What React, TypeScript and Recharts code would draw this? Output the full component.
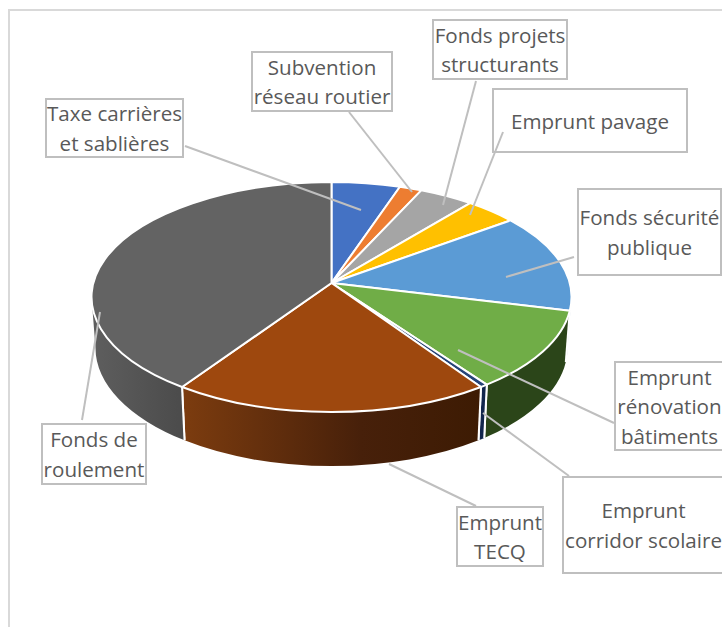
import { Pie, PieChart } from "recharts";

// share of each funding source, clockwise from 12 o'clock (%)
const CATEGORIES = [
  "Taxe carrières et sablières",
  "Subvention réseau routier",
  "Fonds projets structurants",
  "Emprunt pavage",
  "Fonds sécurité publique",
  "Emprunt rénovation bâtiments",
  "Emprunt corridor scolaire",
  "Emprunt TECQ",
  "Fonds de roulement",
];
const VALUES = [4.6, 1.5, 3.7, 3.6, 13.5, 11.9, 0.5, 21.4, 39.3];
const COLORS = ["#4472c4", "#ed7d31", "#a5a5a5", "#ffc000", "#5b9bd5", "#70ad47", "#264478", "#9e480e", "#636363"];
const LABEL_LINES = [
  ["Taxe carrières", "et sablières"],
  ["Subvention", "réseau routier"],
  ["Fonds projets", "structurants"],
  ["Emprunt pavage"],
  ["Fonds sécurité", "publique"],
  ["Emprunt", "rénovation", "bâtiments"],
  ["Emprunt", "corridor scolaire"],
  ["Emprunt", "TECQ"],
  ["Fonds de", "roulement"],
];

const data = CATEGORIES.map((name, i) => ({ name, value: VALUES[i], fill: COLORS[i] }));

// side wall colour for each slice colour
const WALL_FILLS: Record<string, string> = {
  "#5b9bd5": "#2f5a85",
  "#70ad47": "#2b4519",
  "#264478": "#12264d",
  "#9e480e": "url(#wallBrown)",
  "#636363": "url(#wallGray)",
};

// callout layout: box [x1, y1, x2, y2], leader [x1, y1, x2, y2]
const CALLOUTS = [
  { box: [46, 99, 183, 157], leader: [185, 146, 361, 210] },
  { box: [252, 52, 392, 111], leader: [349, 112, 412, 192] },
  { box: [433, 20, 567, 79], leader: [476, 81, 443, 205] },
  { box: [493, 89, 687, 152], leader: [503, 132, 470, 215] },
  { box: [578, 189, 721, 275], leader: [574, 257, 506, 277] },
  { box: [615, 362, 724, 450], leader: [614, 423, 458, 350] },
  { box: [563, 477, 724, 573], leader: [569, 476, 483, 413] },
  { box: [457, 507, 543, 566], leader: [476, 506, 389, 464] },
  { box: [42, 424, 146, 484], leader: [82, 420, 100, 312] },
];

const RIM_CX = 331.5;
const RIM_CY = 297;
const RIM_RX = 240;
const RIM_RY = 115;
const APEX_LIFT = 14; // the perspective pushes the apex above the rim's centre
const BASE_CY = 348;
const BASE_RX = 236;
const BASE_RY = 118;

const rad = (deg: number) => (deg * Math.PI) / 180;
const rimPoint = (t: number) => [RIM_CX + RIM_RX * Math.sin(rad(t)), RIM_CY - RIM_RY * Math.cos(rad(t))];
const basePoint = (t: number) => [RIM_CX + BASE_RX * Math.sin(rad(t)), BASE_CY - BASE_RY * Math.cos(rad(t))];

function Slice3D(props: any) {
  // recharts angles run counter-clockwise from 3 o'clock
  const t0 = 90 - props.startAngle;
  const t1 = 90 - props.endAngle;
  const [x0, y0] = rimPoint(t0);
  const [x1, y1] = rimPoint(t1);
  const large = t1 - t0 > 180 ? 1 : 0;
  const top = `M${RIM_CX},${RIM_CY - APEX_LIFT}L${x0},${y0}A${RIM_RX},${RIM_RY} 0 ${large} 1 ${x1},${y1}Z`;

  const w0 = Math.max(t0, 90);
  const w1 = Math.min(t1, 270);
  let wall = null;
  if (w1 > w0) {
    const [ax, ay] = rimPoint(w0);
    const [bx, by] = rimPoint(w1);
    const [cx, cy] = basePoint(w1);
    const [dx, dy] = basePoint(w0);
    const d = `M${ax},${ay}A${RIM_RX},${RIM_RY} 0 0 1 ${bx},${by}L${cx},${cy}A${BASE_RX},${BASE_RY} 0 0 0 ${dx},${dy}Z`;
    wall = (
      <g>
        <path d={d} fill={WALL_FILLS[props.fill] ?? props.fill} stroke="none" />
        {w0 === t0 && <line x1={ax} y1={ay} x2={dx} y2={dy} stroke="#fff" strokeWidth={2} />}
        {w1 === t1 && <line x1={bx} y1={by} x2={cx} y2={cy} stroke="#fff" strokeWidth={2} />}
      </g>
    );
  }
  return (
    <g>
      {wall}
      <path d={top} fill={props.fill} stroke="#fff" strokeWidth={2} strokeLinejoin="round" />
    </g>
  );
}

function Callout(props: any) {
  const { box, leader } = CALLOUTS[props.index];
  const lines = LABEL_LINES[props.index];
  const [x1, y1, x2, y2] = box;
  const midX = (x1 + x2) / 2;
  const midY = (y1 + y2) / 2;
  return (
    <g>
      <rect x={x1} y={y1} width={x2 - x1} height={y2 - y1} fill="none" stroke="#bfbfbf" strokeWidth={2} />
      <line x1={leader[0]} y1={leader[1]} x2={leader[2]} y2={leader[3]} stroke="#bfbfbf" strokeWidth={2} />
      {lines.map((line, i) => (
        <text
          key={line}
          x={midX}
          y={midY + 8 + (i - (lines.length - 1) / 2) * 29.5}
          textAnchor="middle"
          fontFamily="'Open Sans', sans-serif"
          fontSize={20.6}
          fill="#595959"
        >
          {line}
        </text>
      ))}
    </g>
  );
}

export default function App() {
  return (
    <div style={{ position: "absolute", left: 0, top: 0, width: 722, height: 627, overflow: "hidden", background: "#fff" }}>
      <div
        style={{
          position: "absolute",
          left: 8,
          top: 9,
          width: 760,
          height: 700,
          borderLeft: "2px solid #d9d9d9",
          borderTop: "2px solid #d9d9d9",
        }}
      />
      <div style={{ position: "absolute", left: 0, top: 0 }}>
        <PieChart width={722} height={627} margin={{ top: 0, right: 0, bottom: 0, left: 0 }}>
          <defs>
            <linearGradient id="wallBrown" gradientUnits="userSpaceOnUse" x1={183} y1={0} x2={480} y2={0}>
              <stop offset="0%" stopColor="#7c3c0f" />
              <stop offset="60%" stopColor="#47200a" />
              <stop offset="100%" stopColor="#3d1b03" />
            </linearGradient>
            <linearGradient id="wallGray" gradientUnits="userSpaceOnUse" x1={92} y1={0} x2={183} y2={0}>
              <stop offset="0%" stopColor="#5e5e5e" />
              <stop offset="100%" stopColor="#4b4b4b" />
            </linearGradient>
          </defs>
          <Pie
            data={data}
            dataKey="value"
            nameKey="name"
            cx={RIM_CX}
            cy={RIM_CY}
            outerRadius={RIM_RX}
            startAngle={90}
            endAngle={-270}
            shape={Slice3D}
            label={Callout}
            labelLine={false}
            isAnimationActive={false}
          />
        </PieChart>
      </div>
    </div>
  );
}
